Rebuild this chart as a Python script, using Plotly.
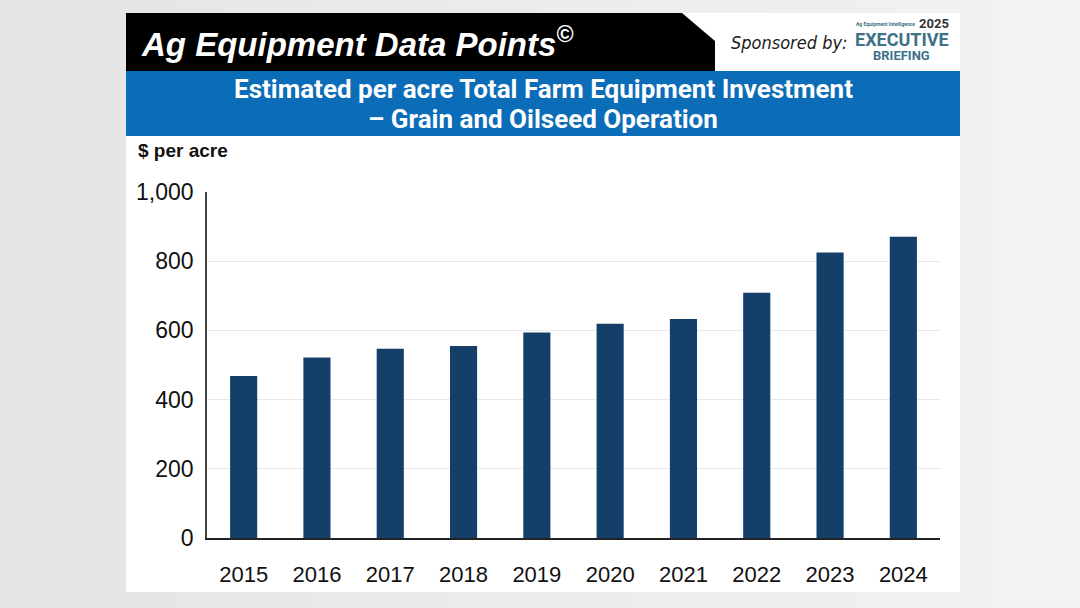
import plotly.graph_objects as go

years = ["2015", "2016", "2017", "2018", "2019", "2020", "2021", "2022", "2023", "2024"]
values = [468, 522, 547, 555, 594, 619, 633, 709, 825, 871]
y_ticks = [0, 200, 400, 600, 800, 1000]
y_tick_labels = ["0", "200", "400", "600", "800", "1,000"]

header = "Ag Equipment Data Points<sup>©</sup>"
title_lines = ["Estimated per acre Total Farm Equipment Investment", "– Grain and Oilseed Operation"]
unit_label = "$ per acre"

W, H = 1080, 608
ML, MR, MT, MB = 207, 140, 192, 70
PW, PH = W - ML - MR, H - MT - MB
BAR = "#133f69"

fig = go.Figure(go.Bar(x=years, y=values, marker=dict(color=BAR, line=dict(width=0)), width=0.37))

def px(x):
    return (x - ML) / PW

def py(y):
    return (H - MB - y) / PH

shapes = []
# soft horizontal background gradient
n_bands = 24
for i in range(n_bands):
    g = int(229 + (243 - 229) * i / (n_bands - 1))
    shapes.append(dict(type="rect", xref="paper", yref="paper",
                       x0=px(W * i / n_bands), x1=px(W * (i + 1) / n_bands + 1), y0=py(H), y1=py(0),
                       fillcolor=f"rgb({g},{g},{g})", line=dict(width=0), layer="below"))
shapes += [
    dict(type="rect", xref="paper", yref="paper", x0=px(126), x1=px(960), y0=py(592), y1=py(13), fillcolor="#ffffff", line=dict(width=0), layer="below"),
    dict(type="path", xref="paper", yref="paper",
         path=f"M {px(126)},{py(13)} L {px(682)},{py(13)} L {px(715)},{py(41)} L {px(715)},{py(71)} L {px(126)},{py(71)} Z",
         fillcolor="#000000", line=dict(width=0), layer="below"),
    dict(type="rect", xref="paper", yref="paper", x0=px(126), x1=px(960), y0=py(136), y1=py(71), fillcolor="#0b6cb8", line=dict(width=0), layer="below"),
]

annotations = [
    dict(text=f"<b><i>{header}</i></b>", x=px(139), y=py(42), xref="paper", yref="paper", xanchor="left", yanchor="middle",
         showarrow=False, font=dict(family="Liberation Sans, Arial, sans-serif", size=33, color="#ffffff")),
    dict(text="<i>Sponsored by:</i>", x=px(729), y=py(42), xref="paper", yref="paper", xanchor="left", yanchor="middle",
         showarrow=False, font=dict(family="DejaVu Sans Condensed, Liberation Sans Narrow, sans-serif", size=18, color="#1a1a1a")),
    dict(text="<b>Ag Equipment Intelligence</b>", x=px(885), y=py(24), xref="paper", yref="paper", xanchor="center", yanchor="middle",
         showarrow=False, font=dict(family="Roboto, sans-serif", size=5, color="#3d7287")),
    dict(text="<b>2025</b>", x=px(951), y=py(23), xref="paper", yref="paper", xanchor="right", yanchor="middle",
         showarrow=False, font=dict(family="Roboto, sans-serif", size=13, color="#333333")),
    dict(text="<b>EXECUTIVE</b>", x=px(902), y=py(39), xref="paper", yref="paper", xanchor="center", yanchor="middle",
         showarrow=False, font=dict(family="Roboto, sans-serif", size=18, color="#3d7287")),
    dict(text="<b>BRIEFING</b>", x=px(901), y=py(55), xref="paper", yref="paper", xanchor="center", yanchor="middle",
         showarrow=False, font=dict(family="Roboto, sans-serif", size=13, color="#3d7287")),
    dict(text=f"<b>{title_lines[0]}</b>", x=px(543), y=py(89), xref="paper", yref="paper", xanchor="center", yanchor="middle",
         showarrow=False, font=dict(family="Roboto, sans-serif", size=26, color="#ffffff")),
    dict(text=f"<b>{title_lines[1]}</b>", x=px(543), y=py(119), xref="paper", yref="paper", xanchor="center", yanchor="middle",
         showarrow=False, font=dict(family="Roboto, sans-serif", size=26, color="#ffffff")),
    dict(text=f"<b>{unit_label}</b>", x=px(136), y=py(150), xref="paper", yref="paper", xanchor="left", yanchor="middle",
         showarrow=False, font=dict(family="Liberation Sans, Arial, sans-serif", size=19, color="#111111")),
]

fig.update_layout(
    width=W, height=H,
    margin=dict(l=ML, r=MR, t=MT, b=MB, pad=0),
    paper_bgcolor="#ececec",
    plot_bgcolor="rgba(0,0,0,0)",
    shapes=shapes,
    annotations=annotations,
    showlegend=False,
    font=dict(family="Liberation Sans, Arial, sans-serif", color="#111111"),
)
fig.update_xaxes(
    type="category", showgrid=False, showline=True, linecolor="#222222", linewidth=1.5,
    ticks="", tickfont=dict(size=22, color="#111111"), ticklabelstandoff=16,
    range=[-0.5, len(years) - 0.5], fixedrange=True,
)
fig.update_yaxes(
    range=[0, 1000], tickvals=y_ticks, ticktext=y_tick_labels,
    showgrid=True, gridcolor="#e8e8e8", gridwidth=1,
    showline=True, linecolor="#444444", linewidth=1.5,
    ticks="", tickfont=dict(size=23, color="#111111"), ticklabelstandoff=7,
    zeroline=False, fixedrange=True,
)

fig.write_html("out.html", config={"displayModeBar": False})
